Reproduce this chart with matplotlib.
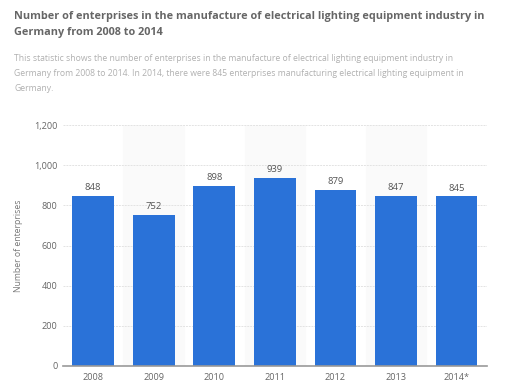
import matplotlib.pyplot as plt
from matplotlib.ticker import FuncFormatter

years = ['2008', '2009', '2010', '2011', '2012', '2013', '2014*']
enterprises = [848, 752, 898, 939, 879, 847, 845]

plt.rcParams['font.family'] = ['Open Sans', 'DejaVu Sans']

fig = plt.figure(figsize=(5.24, 3.84), dpi=100)
ax = fig.add_axes([0.120, 0.047, 0.809, 0.627])

x = range(len(years))

# light column shading every other category
for i in x:
    if i % 2 == 1:
        ax.axvspan(i - 0.5, i + 0.5, color='#fafafa', zorder=0)

bars = ax.bar(x, enterprises, width=0.69, color='#2a72d8', zorder=3)
for b, v in zip(bars, enterprises):
    ax.text(b.get_x() + b.get_width() / 2, v + 18, str(v), ha='center', va='bottom',
            fontsize=6.8, color='#555555', zorder=4)

ax.set_xlim(-0.5, 6.5)
ax.set_ylim(0, 1200)
ax.set_yticks(range(0, 1201, 200))
ax.yaxis.set_major_formatter(FuncFormatter(lambda v, pos: f"{int(v):,}"))
ax.set_xticks(list(x))
ax.set_xticklabels(years)

ax.yaxis.grid(True, color='#e3e3e3', linestyle=(0, (2, 1)), linewidth=0.7)
ax.set_axisbelow(True)

for s in ['top', 'right', 'left']:
    ax.spines[s].set_visible(False)
ax.spines['bottom'].set_color('#999999')
ax.spines['bottom'].set_linewidth(1.2)
ax.spines['bottom'].set_zorder(5)

ax.tick_params(axis='both', length=0, labelsize=6.6, labelcolor='#666666')
ax.tick_params(axis='x', pad=5)
ax.tick_params(axis='y', pad=4)
ax.set_ylabel('Number of enterprises', fontsize=6.2, color='#777777', labelpad=8)

fig.text(0.027, 0.972, 'Number of enterprises in the manufacture of electrical lighting equipment industry in\nGermany from 2008 to 2014',
         fontsize=7.8, fontweight='bold', color='#666666', va='top', linespacing=1.6)
fig.text(0.027, 0.860, 'This statistic shows the number of enterprises in the manufacture of electrical lighting equipment industry in\n'
         'Germany from 2008 to 2014. In 2014, there were 845 enterprises manufacturing electrical lighting equipment in\nGermany.',
         fontsize=6.25, color='#b0b0b0', va='top', linespacing=1.85)

plt.savefig('out.png', dpi=100)
